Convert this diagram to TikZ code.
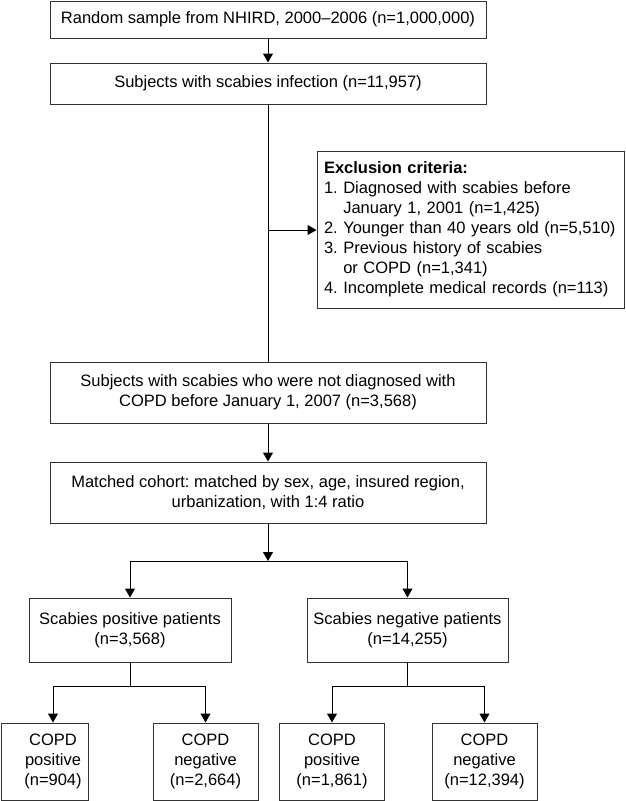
\documentclass[tikz,border=0pt]{standalone}
\usepackage{fontspec}
\setmainfont{Liberation Sans}
\usepackage{tikz}
\usetikzlibrary{positioning}
\usetikzlibrary{arrows.meta}
\pgfdeclarelayer{nodelayer}
\pgfdeclarelayer{edgelayer}
\pgfsetlayers{nodelayer,edgelayer,main}

\begin{document}
\begin{tikzpicture}[x=1pt, y=-1pt,
    box/.style={draw=black!80, line width=1pt, fill=white, align=center, inner sep=0pt, font=\fontsize{16.5}{20}\selectfont\frenchspacing},
    flow/.style={line width=1pt, -{Triangle[length=9pt, width=10pt]}},
    link/.style={line width=1pt}]
  \useasboundingbox (0, 0) rectangle (625, 801);
  \begin{pgfonlayer}{nodelayer}
    \node [box, minimum width=436, minimum height=37] (0) at (268, 19.5) {Random sample from NHIRD, 2000--2006 (n=1,000,000)};
    \node [box, minimum width=436, minimum height=41] (1) at (268, 83.5) {Subjects with scabies infection (n=11,957)};
    \node [box, minimum height=157, text width=293, inner xsep=7pt, align=left] (2) at (470.5, 229.5) {\textbf{Exclusion criteria:}\\
      1. Diagnosed with scabies before\\
      \phantom{1. }January 1, 2001 (n=1,425)\\
      2. Younger than 40 years old (n=5,510)\\
      3. Previous history of scabies\\
      \phantom{3. }or COPD (n=1,341)\\
      4. Incomplete medical records (n=113)};
    \node [box, minimum width=436, minimum height=61] (3) at (268, 392.5) {Subjects with scabies who were not diagnosed with\\COPD before January 1, 2007 (n=3,568)};
    \node [box, minimum width=436, minimum height=61] (4) at (268, 492.5) {Matched cohort: matched by sex, age, insured region,\\urbanization, with 1:4 ratio};
    \node [box, minimum width=202, minimum height=64] (5) at (130, 630) {Scabies positive patients\\(n=3,568)};
    \node [box, minimum width=201, minimum height=64] (6) at (407.5, 630) {Scabies negative patients\\(n=14,255)};
    \node [box, minimum width=87, minimum height=77] (7) at (44.5, 761.5) {\begin{tabular}{@{\hspace{17pt}}c@{}}COPD\\positive\\(n=904)\end{tabular}};
    \node [box, minimum width=105, minimum height=77] (8) at (205.5, 761.5) {COPD\\negative\\(n=2,664)};
    \node [box, minimum width=105, minimum height=77] (9) at (332, 761.5) {COPD\\positive\\(n=1,861)};
    \node [box, minimum width=105, minimum height=77] (10) at (484.5, 761.5) {COPD\\negative\\(n=12,394)};
    \coordinate (11) at (268, 230);
    \coordinate (12) at (268, 561);
    \coordinate (13) at (130, 561);
    \coordinate (14) at (407.5, 561);
    \coordinate (15) at (130, 686);
    \coordinate (16) at (53, 686);
    \coordinate (17) at (205.5, 686);
    \coordinate (18) at (407.5, 686);
    \coordinate (19) at (332, 686);
    \coordinate (20) at (484.5, 686);
  \end{pgfonlayer}
  \begin{pgfonlayer}{edgelayer}
    \draw [flow] (0) to (1);
    \draw [link] (1) to (3);
    \draw [flow] (11) to (11 -| 2.west);
    \draw [flow] (3) to (4);
    \draw [flow] (4) to (12);
    \draw [link] (13) to (14);
    \draw [flow] (13) to (5);
    \draw [flow] (14) to (6);
    \draw [link] (5) to (15);
    \draw [link] (16) to (17);
    \draw [flow] (16) to (16 |- 7.north);
    \draw [flow] (17) to (8);
    \draw [link] (6) to (18);
    \draw [link] (19) to (20);
    \draw [flow] (19) to (9);
    \draw [flow] (20) to (10);
  \end{pgfonlayer}
\end{tikzpicture}
\end{document}
